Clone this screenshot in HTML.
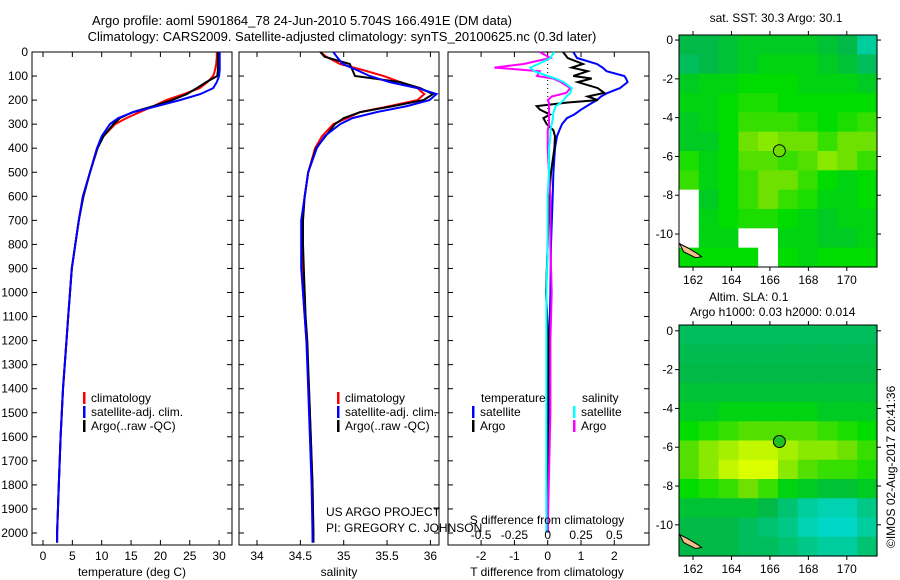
<!DOCTYPE html>
<html><head><meta charset="utf-8"><style>
body{margin:0;background:#fff;}
svg{display:block;font-family:"Liberation Sans",sans-serif;font-size:12px;}
</style></head><body>
<svg id="fig" width="900" height="580" viewBox="0 0 900 580">
<text x="302" y="25" text-anchor="middle" font-size="13">Argo profile: aoml 5901864_78 24-Jun-2010 5.704S 166.491E (DM data)</text>
<text x="342" y="41" text-anchor="middle" font-size="13">Climatology: CARS2009. Satellite-adjusted climatology: synTS_20100625.nc (0.3d later)</text>
<text x="776" y="22" text-anchor="middle">sat. SST: 30.3 Argo: 30.1</text>
<text x="709" y="301">Altim. SLA: 0.1</text>
<text x="690" y="316">Argo h1000: 0.03 h2000: 0.014</text>
<text transform="translate(895,548) rotate(-90)">©IMOS 02-Aug-2017 20:41:36</text>
</svg>
<script>
// ---- profile data ----
const depths = [0,20,50,75,100,125,150,175,200,225,250,275,300,350,400,500,600,700,800,900,1000,1100,1200,1400,1600,1800,2000,2040];
const tempClim = [29.6,29.6,29.5,29.3,29.0,28.0,26.7,24.0,21.0,18.8,16.5,14.2,12.3,10.3,9.2,8.0,6.8,6.1,5.5,4.9,4.6,4.3,4.0,3.4,3.0,2.7,2.4,2.4];
const tempSat  = [30.1,30.1,30.1,30.1,30.0,29.6,29.0,26.8,23.3,19.4,15.4,12.8,11.4,10.0,9.2,8.0,6.8,6.1,5.5,4.9,4.6,4.3,4.0,3.4,3.0,2.7,2.4,2.4];
const tempArgo = [29.8,29.8,29.8,29.8,29.7,27.8,26.2,24.5,22.0,18.8,15.3,13.1,12.0,10.3,9.3,8.0,6.9,6.1,5.5,4.9,4.6,4.3,4.0,3.4,3.0,2.7,2.4,2.4];
const salClim = [34.73,34.80,34.96,35.22,35.46,35.65,35.85,35.93,35.85,35.53,35.19,35.04,34.88,34.75,34.67,34.59,34.55,34.52,34.52,34.52,34.53,34.55,34.57,34.60,34.62,34.64,34.65,34.65];
const salSat  = [34.88,34.92,34.99,35.15,35.30,35.53,35.85,36.07,35.99,35.73,35.38,35.10,34.96,34.78,34.69,34.59,34.55,34.51,34.51,34.51,34.53,34.55,34.57,34.59,34.61,34.63,34.64,34.64];
const salArgo = [34.73,34.78,35.07,35.10,35.13,35.65,35.88,36.03,35.92,35.57,35.19,35.00,34.90,34.79,34.68,34.59,34.55,34.53,34.53,34.54,34.55,34.56,34.58,34.60,34.62,34.64,34.65,34.65];
// difference panel
const diffDepths = [0,25,50,65,80,100,110,125,150,170,185,200,210,225,240,260,275,300,325,350,400,500,600,800,1000,1200,1500,2000];
const tDiffSat  = [0.77,0.88,1.48,1.65,1.77,2.3,2.35,2.4,2.17,1.8,1.6,1.48,1.35,1.17,1.0,0.8,0.58,0.43,0.35,0.28,0.22,0.17,0.15,0.1,0.08,0.05,0.03,0.0];
const tDiffArgo = [0.46,0.6,1.06,0.72,1.2,0.77,1.32,0.9,1.5,1.7,1.2,1.5,0.6,-0.33,-0.23,0.07,-0.13,-0.03,0.17,0.22,0.2,0.1,0.05,0.0,-0.05,0.02,0.0,0.0];
const sDiffSat  = [0.05,0.02,-0.07,-0.13,-0.1,0.0,0.06,0.12,0.18,0.17,0.14,0.12,0.1,0.06,0.05,0.04,0.04,0.03,0.02,0.02,0.01,0.01,0.0,0.0,-0.01,-0.01,-0.01,-0.01];
const sDiffArgo = [-0.06,0.02,-0.18,-0.4,-0.06,-0.08,0.04,0.1,0.17,0.14,0.03,0.0,0.01,0.01,0.01,0.01,0.01,0.01,0.0,0.0,0.0,0.01,0.02,0.02,0.03,0.02,0.02,0.0];
const depthTicks = [0,100,200,300,400,500,600,700,800,900,1000,1100,1200,1300,1400,1500,1600,1700,1800,1900,2000];
const tempTicks = [0,5,10,15,20,25,30];
const salTicks = [34,34.5,35,35.5,36];
const tDiffTicks = [-2,-1,0,1,2];
const sDiffTicks = [-0.5,-0.25,0,0.25,0.5];
// ---- map data (0..1 colour index, -1 = no data) ----
const sstGrid = [
[0.3,0.3,0.35,0.4,0.4,0.4,0.4,0.35,0.3,0.1],
[0.25,0.3,0.35,0.4,0.45,0.45,0.45,0.4,0.35,0.25],
[0.4,0.45,0.45,0.5,0.5,0.5,0.45,0.45,0.45,0.4],
[0.45,0.45,0.5,0.55,0.55,0.5,0.5,0.5,0.5,0.5],
[0.4,0.45,0.5,0.6,0.6,0.6,0.55,0.5,0.55,0.6],
[0.4,0.4,0.5,0.7,0.75,0.7,0.7,0.6,0.7,0.7],
[0.55,0.45,0.5,0.65,0.65,0.6,0.65,0.75,0.7,0.6],
[0.6,0.45,0.5,0.6,0.7,0.7,0.6,0.5,0.45,0.5],
[-1,0.4,0.5,0.6,0.7,0.6,0.55,0.45,0.45,0.5],
[-1,0.45,0.5,0.55,0.55,0.5,0.45,0.4,0.45,0.45],
[-1,0.45,0.45,-1,-1,0.45,0.45,0.4,0.4,0.45],
[0.5,0.5,0.5,0.5,-1,0.5,0.45,0.5,0.5,0.5]];
const slaGrid = [
[0.25,0.25,0.25,0.25,0.25,0.25,0.25,0.25,0.25,0.25],
[0.28,0.28,0.28,0.28,0.28,0.28,0.28,0.28,0.28,0.28],
[0.3,0.3,0.3,0.3,0.3,0.3,0.3,0.3,0.3,0.3],
[0.35,0.35,0.35,0.35,0.35,0.35,0.35,0.35,0.35,0.35],
[0.4,0.4,0.45,0.45,0.45,0.45,0.45,0.4,0.4,0.4],
[0.5,0.55,0.6,0.65,0.65,0.65,0.65,0.6,0.55,0.5],
[0.65,0.75,0.8,0.85,0.85,0.8,0.75,0.75,0.7,0.6],
[0.65,0.75,0.85,0.9,0.9,0.75,0.65,0.6,0.6,0.55],
[0.5,0.55,0.6,0.7,0.6,0.45,0.4,0.35,0.35,0.4],
[0.35,0.35,0.35,0.35,0.3,0.2,0.1,0.05,0.05,0.15],
[0.3,0.3,0.3,0.25,0.2,0.15,0.05,0.0,0.0,0.1],
[0.3,0.3,0.3,0.25,0.25,0.2,0.15,0.1,0.1,0.2]];
const lonTicks = [162,164,166,168,170];
const latTicks = [0,-2,-4,-6,-8,-10];
const floatLon = 166.491, floatLat = -5.704;

const NS = 'http://www.w3.org/2000/svg';
const svg = document.getElementById('fig');
function mk(tag, attrs, parent){const e=document.createElementNS(NS,tag);for(const k in attrs)e.setAttribute(k,attrs[k]);(parent||svg).appendChild(e);return e;}
function txt(x,y,s,anchor,parent){const t=mk('text',{x:x,y:y,'text-anchor':anchor||'middle'},parent);t.textContent=s;return t;}

const yTop=52, yBot=545;
const yD = d => yTop + d*0.2405;
const xT = v => 43 + v*5.87;
const xS = v => 257 + (v-34)*86.7;
const xTD = v => 547.7 + v*33.3;
const xSD = v => 547.7 + v*133.2;

function panel(name,x0,x1){
  const g=mk('g',{});
  
  
  mk('rect',{x:x0,y:yTop,width:x1-x0,height:yBot-yTop,fill:'none',stroke:'#000','stroke-width':1},g);
  depthTicks.forEach(d=>{const y=yD(d);mk('line',{x1:x0,x2:x0+5,y1:y,y2:y,stroke:'#000'},g);mk('line',{x1:x1-5,x2:x1,y1:y,y2:y,stroke:'#000'},g);});
  return g;
}
function line(g,xs,ys,fx,color,w,name){
  const p=mk('polyline',{points:xs.map((v,i)=>fx(v).toFixed(1)+','+yD(ys[i]).toFixed(1)).join(' '),fill:'none',stroke:color,'stroke-width':w},g);
  
  
}
function xticks(g,ticks,fx,y,labels){
  ticks.forEach(t=>{const x=fx(t);mk('line',{x1:x,x2:x,y1:yTop,y2:yTop+5,stroke:'#000'},g);mk('line',{x1:x,x2:x,y1:yBot-5,y2:yBot,stroke:'#000'},g);if(labels)txt(x,y,String(t),'middle',g);});
}
// panel 1
const p1=panel('temperature-panel',32,232);
depthTicks.forEach(d=>txt(28,yD(d)+4,String(d),'end',p1));
xticks(p1,tempTicks,xT,560,true);
txt(132,576,'temperature (deg C)','middle',p1);
line(p1,tempClim,depths,xT,'#f00',2,'temp-climatology-line');
line(p1,tempArgo,depths,xT,'#000',2,'temp-argo-line');
line(p1,tempSat,depths,xT,'#00f',2,'temp-satellite-line');
// panel 2
const p2=panel('salinity-panel',239,439);
xticks(p2,salTicks,xS,560,true);
txt(339,576,'salinity','middle',p2);
line(p2,salClim,depths,xS,'#f00',2,'sal-climatology-line');
line(p2,salArgo,depths,xS,'#000',2,'sal-argo-line');
line(p2,salSat,depths,xS,'#00f',2,'sal-satellite-line');
// panel 3
const p3=panel('difference-panel',448,649);
xticks(p3,tDiffTicks,xTD,560,true);
txt(547,576,'T difference from climatology','middle',p3);
mk('line',{x1:547.7,x2:547.7,y1:yTop,y2:140,stroke:'#000','stroke-dasharray':'1,3'},p3);
line(p3,tDiffSat,diffDepths,xTD,'#00f',2,'tdiff-satellite-line');
line(p3,tDiffArgo,diffDepths,xTD,'#000',2,'tdiff-argo-line');
line(p3,sDiffArgo,diffDepths,xSD,'#f0f',2,'sdiff-argo-line');
line(p3,sDiffSat,diffDepths,xSD,'#0ff',2,'sdiff-satellite-line');
sDiffTicks.forEach(t=>txt(xSD(t),539,String(t),'middle',p3));
txt(547,524,'S difference from climatology','middle',p3);
// legends
function leg(x,y,color,label,name){
  const g=mk('g',{});
  
  
  mk('rect',{x:x,y:y-10,width:2.5,height:12,fill:color},g);
  txt(x+8,y,label,'start',g);
}
leg(83,402,'#f00','climatology','legend-temp-climatology');
leg(83,416,'#00f','satellite-adj. clim.','legend-temp-satellite');
leg(83,430,'#000','Argo(..raw -QC)','legend-temp-argo');
leg(337,402,'#f00','climatology','legend-sal-climatology');
leg(337,416,'#00f','satellite-adj. clim.','legend-sal-satellite');
leg(337,430,'#000','Argo(..raw -QC)','legend-sal-argo');
txt(481,402,'temperature','start',p3);
txt(582,402,'salinity','start',p3);
leg(472,416,'#00f','satellite','legend-tdiff-satellite');
leg(472,430,'#000','Argo','legend-tdiff-argo');
leg(573,416,'#0ff','satellite','legend-sdiff-satellite');
leg(573,430,'#f0f','Argo','legend-sdiff-argo');
txt(326,516,'US ARGO PROJECT','start');
txt(326,532,'PI: GREGORY C. JOHNSON','start');

// maps
const stops=[[0,[0,215,200]],[0.3,[0,185,70]],[0.5,[0,220,0]],[0.7,[110,225,0]],[0.9,[220,255,0]],[1,[240,255,0]]];
function cmap(v){for(let i=1;i<stops.length;i++){if(v<=stops[i][0]){const a=stops[i-1],b=stops[i],f=(v-a[0])/(b[0]-a[0]);return 'rgb('+a[1].map((c,k)=>Math.round(c+(b[1][k]-c)*f)).join(',')+')';}}return 'rgb(240,255,0)';}
function drawMap(name,grid,x0,x1,yT,yB,lat0,circleFill){
  const lonL=161.27,lonR=171.57;
  const xL=l=>x0+(l-lonL)*(x1-x0)/(lonR-lonL);
  const yL=l=>yT+(lat0-l)*19.4;
  const g=mk('g',{});
  
  
  const nr=grid.length,nc=grid[0].length,cw=(x1-x0)/nc,ch=(yB-yT)/nr;
  grid.forEach((row,r)=>row.forEach((v,c)=>{
    const cell=mk('rect',{x:x0+c*cw,y:yT+r*ch,width:cw+0.6,height:ch+0.6,fill:v<0?'#fff':cmap(v)},g);
    
    
  }));
  mk('path',{d:'M'+xL(161.3)+','+yL(-10.5)+' l8,4 l10,6 l4,3 l-6,1 l-12,-6 z',fill:'#f4c08a',stroke:'#000','stroke-width':1},g);
  mk('rect',{x:x0,y:yT,width:x1-x0,height:yB-yT,fill:'none',stroke:'#000'},g);
  lonTicks.forEach(l=>{const x=xL(l);mk('line',{x1:x,x2:x,y1:yT,y2:yT-4,stroke:'#000'},g);mk('line',{x1:x,x2:x,y1:yB,y2:yB+4,stroke:'#000'},g);txt(x,yB+17,String(l),'middle',g);});
  latTicks.forEach(l=>{const y=yL(l);if(y<yT-1)return;mk('line',{x1:x0,x2:x0-4,y1:y,y2:y,stroke:'#000'},g);mk('line',{x1:x1,x2:x1+4,y1:y,y2:y,stroke:'#000'},g);txt(x0-6,y+4,String(l),'end',g);});
  const c=mk('circle',{cx:xL(floatLon),cy:yL(floatLat),r:6,fill:circleFill,stroke:'#000'},g);
  
  
}
drawMap('sst-map',sstGrid,679,877,35,267,0.26,'#70dd00');
drawMap('sla-map',slaGrid,679,877,325,556,0.3,'#20c020');
</script>
</body></html>
